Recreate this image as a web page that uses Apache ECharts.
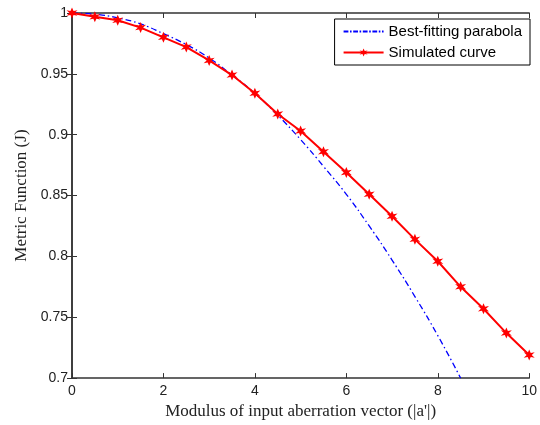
<!DOCTYPE html>
<html>
<head>
<meta charset="utf-8">
<script src="https://cdn.jsdelivr.net/npm/echarts@6/dist/echarts.min.js"></script>
<style>
  html, body { margin: 0; padding: 0; background: #fff; }
  #chart { width: 540px; height: 425px; }
</style>
</head>
<body>
<div id="chart"></div>
<script>
// aberration modulus |a'|
const xValues = [0, 0.5, 1, 1.5, 2, 2.5, 3, 3.5, 4, 4.5, 5, 5.5, 6, 6.5, 7, 7.5, 8, 8.5, 9, 9.5, 10];
// simulated metric function J
const simulated = [1.000, 0.997, 0.994, 0.988, 0.980, 0.972, 0.961, 0.949, 0.934, 0.917, 0.903,
                   0.886, 0.869, 0.851, 0.833, 0.814, 0.796, 0.775, 0.757, 0.737, 0.719];
// best-fitting parabola
const parabolaX = [0, 0.5, 1, 1.5, 2, 2.5, 3, 3.5, 4, 4.5, 5, 5.5, 6, 6.5, 7, 7.5, 8, 8.5];
const parabola = [1.000, 0.999, 0.996, 0.991, 0.983, 0.974, 0.963, 0.949, 0.934, 0.916, 0.896,
                  0.874, 0.851, 0.825, 0.797, 0.767, 0.735, 0.700];

// asterisk-like marker, a bit fat so it reads like the MATLAB '*' on a thick line
const starPath = 'path://M50,0 L62,32 L93,25 L70,50 L93,75 L62,68 L50,100 L38,68 L7,75 L30,50 L7,25 L38,32 Z';

// dash-dot legend swatch (thin strip, kept in aspect)
const dashDotIcon = 'path://M0,0 h12 v5 h-12 Z M16,0 h4 v5 h-4 Z M24,0 h12 v5 h-12 Z M40,0 h4 v5 h-4 Z ' +
    'M48,0 h12 v5 h-12 Z M64,0 h4 v5 h-4 Z M72,0 h12 v5 h-12 Z M88,0 h4 v5 h-4 Z M96,0 h4 v5 h-4 Z';

const labelFont = { fontFamily: 'Liberation Sans', fontSize: 14, color: '#222' };

const chart = echarts.init(document.getElementById('chart'));
chart.setOption({
    animation: false,
    grid: { left: 72, right: 7, top: 13, bottom: 46 },
    legend: {
        orient: 'vertical',
        right: 10,
        top: 19,
        itemWidth: 40,
        itemHeight: 10,
        itemGap: 6,
        padding: [5, 8, 5, 8],
        borderColor: '#000',
        borderWidth: 1,
        backgroundColor: '#fff',
        symbolKeepAspect: true,
        textStyle: { fontFamily: 'Liberation Sans', fontSize: 15, color: '#000' },
        data: [
            {
                name: 'Best-fitting parabola',
                icon: dashDotIcon,
                itemStyle: { color: '#0000ff', borderWidth: 0 },
                lineStyle: { width: 0 }
            },
            { name: 'Simulated curve' }
        ]
    },
    xAxis: [
        {
            type: 'value', min: 0, max: 10, interval: 2,
            name: "Modulus of input aberration vector (|a'|)",
            nameLocation: 'middle', nameGap: 24,
            nameTextStyle: { fontFamily: 'Liberation Serif', fontSize: 17, color: '#222' },
            axisLine: { lineStyle: { color: '#333', width: 1.5 } },
            axisTick: { inside: true, length: 5, lineStyle: { color: '#333' } },
            axisLabel: Object.assign({ margin: 6 }, labelFont),
            splitLine: { show: false }
        },
        {
            type: 'value', min: 0, max: 10, interval: 2, position: 'top',
            axisLine: { show: true, lineStyle: { color: '#333', width: 1.5 } },
            axisTick: { inside: true, length: 5, lineStyle: { color: '#333' } },
            axisLabel: { show: false },
            splitLine: { show: false }
        }
    ],
    yAxis: [
        {
            type: 'value', min: 0.7, max: 1, interval: 0.05,
            name: 'Metric Function (J)',
            nameLocation: 'middle', nameGap: 40,
            nameTextStyle: { fontFamily: 'Liberation Serif', fontSize: 17, color: '#222' },
            axisLine: { show: true, lineStyle: { color: '#333', width: 1.5 } },
            axisTick: { show: true, inside: true, length: 5, lineStyle: { color: '#333' } },
            axisLabel: Object.assign({ margin: 4, formatter: v => String(parseFloat(v.toFixed(2))) }, labelFont),
            splitLine: { show: false }
        },
        {
            type: 'value', min: 0.7, max: 1, interval: 0.05, position: 'right',
            axisLine: { show: true, lineStyle: { color: '#333', width: 1.5 } },
            axisTick: { show: true, inside: true, length: 5, lineStyle: { color: '#333' } },
            axisLabel: { show: false },
            splitLine: { show: false }
        }
    ],
    series: [
        {
            name: 'Best-fitting parabola',
            type: 'line',
            data: parabolaX.map((x, i) => [x, parabola[i]]),
            smooth: true,
            symbol: 'none',
            clip: true,
            color: '#0000ff',
            itemStyle: { color: '#0000ff' },
            lineStyle: { color: '#0000ff', width: 1.3, type: [6, 3, 1.5, 3] },
            z: 3
        },
        {
            name: 'Simulated curve',
            type: 'line',
            data: xValues.map((x, i) => [x, simulated[i]]),
            symbol: starPath,
            symbolSize: 11,
            showAllSymbol: true,
            clip: false,
            color: '#ff0000',
            itemStyle: { color: '#ff0000' },
            lineStyle: { color: '#ff0000', width: 2 },
            z: 4
        }
    ]
});
</script>
</body>
</html>
